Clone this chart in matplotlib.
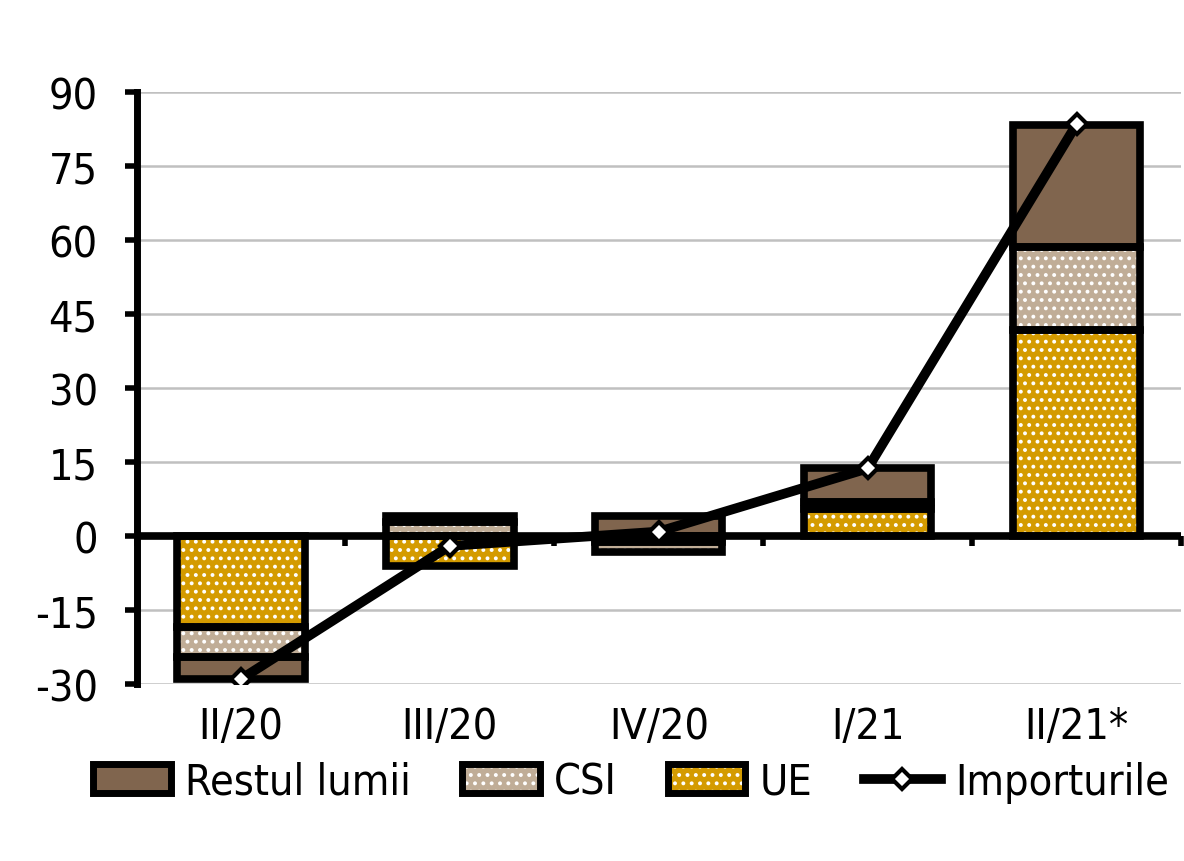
import matplotlib
matplotlib.use("Agg")
import matplotlib.pyplot as plt
import numpy as np
from matplotlib.patches import Patch
from matplotlib.lines import Line2D
from matplotlib.legend_handler import HandlerTuple

# data
categories = ["II/20", "III/20", "IV/20", "I/21", "II/21*"]
ue = [-18.5, -6.0, -1.2, 5.5, 41.8]
csi = [-6.1, 2.8, -2.0, 1.5, 16.8]
restul = [-4.4, 1.3, 4.1, 6.7, 24.7]
importuri = [-29.0, -2.0, 0.9, 13.7, 83.5]
yticks = [-30, -15, 0, 15, 30, 45, 60, 75, 90]

BROWN = "#80654E"
BEIGE = "#C0AD97"
GOLD = "#D49B00"
GRID = "#C0C0C0"

plt.rcParams["font.family"] = ["DejaVu Sans"]
plt.rcParams["font.stretch"] = "condensed"
plt.rcParams["axes.unicode_minus"] = False
plt.rcParams["hatch.linewidth"] = 1.6
FS = 31

fig = plt.figure(figsize=(11.84, 8.62), dpi=100)
ax = fig.add_axes([0.1153, 0.2053, 0.8822, 0.6867])

x = np.arange(len(categories))
width = 0.61
series = [("UE", ue, GOLD, ".."), ("CSI", csi, BEIGE, ".."),
          ("Restul lumii", restul, BROWN, None)]

pos_base = np.zeros(len(x))
neg_base = np.zeros(len(x))
for name, vals, col, hatch in series:
    vals = np.array(vals, dtype=float)
    bottoms = np.where(vals >= 0, pos_base, neg_base)
    # fill (with white dotted hatch), then the black outline on top
    ax.bar(x, vals, width, bottom=bottoms, color=col, hatch=hatch,
           edgecolor="white", linewidth=0, zorder=3)
    ax.bar(x, vals, width, bottom=bottoms, facecolor="none",
           edgecolor="black", linewidth=5.5, zorder=4)
    pos_base = pos_base + np.where(vals >= 0, vals, 0)
    neg_base = neg_base + np.where(vals < 0, vals, 0)

ax.plot(x, importuri, color="black", lw=7, marker="D", markersize=10,
        markerfacecolor="white", markeredgecolor="black", markeredgewidth=3,
        zorder=6)

ax.set_xlim(-0.5, 4.5)
ax.set_ylim(-30, 90)
ax.set_yticks(yticks)
ax.yaxis.grid(True, color=GRID, lw=1.8)
ax.set_axisbelow(True)
ax.axhline(0, color="black", lw=5.5, zorder=5)

for s in ["top", "right", "bottom"]:
    ax.spines[s].set_visible(False)
ax.spines["left"].set_linewidth(5)
ax.tick_params(axis="y", length=9, width=4, pad=19, labelsize=FS)
ax.set_xticks(x)
ax.set_xticklabels(categories)
ax.tick_params(axis="x", length=0, pad=15, labelsize=FS)

# boundary ticks on the zero line
sec = ax.secondary_xaxis(0, transform=ax.transData)
sec.spines["bottom"].set_visible(False)
sec.set_xticks(np.arange(-0.5, 4.6, 1.0))
sec.set_xticklabels([])
sec.tick_params(axis="x", length=7, width=4, direction="out")

def box(col, hatch):
    fill = Patch(facecolor=col, hatch=hatch, edgecolor="white", linewidth=0)
    edge = Patch(facecolor="none", edgecolor="black", linewidth=5)
    return (fill, edge)

handles = [box(BROWN, None), box(BEIGE, ".."), box(GOLD, ".."),
           Line2D([], [], color="black", lw=7, marker="D", markersize=10,
                  markerfacecolor="white", markeredgecolor="black",
                  markeredgewidth=3)]
labels = ["Restul lumii", "CSI", "UE", "Importurile"]
fig.legend(handles, labels, loc="center", bbox_to_anchor=(0.533, 0.092),
           ncol=4, frameon=False, fontsize=FS, handlelength=1.8,
           handleheight=0.65, handletextpad=0.32, columnspacing=1.2,
           handler_map={tuple: HandlerTuple(ndivide=1)})

fig.savefig("out.png", dpi=100, facecolor="white")
